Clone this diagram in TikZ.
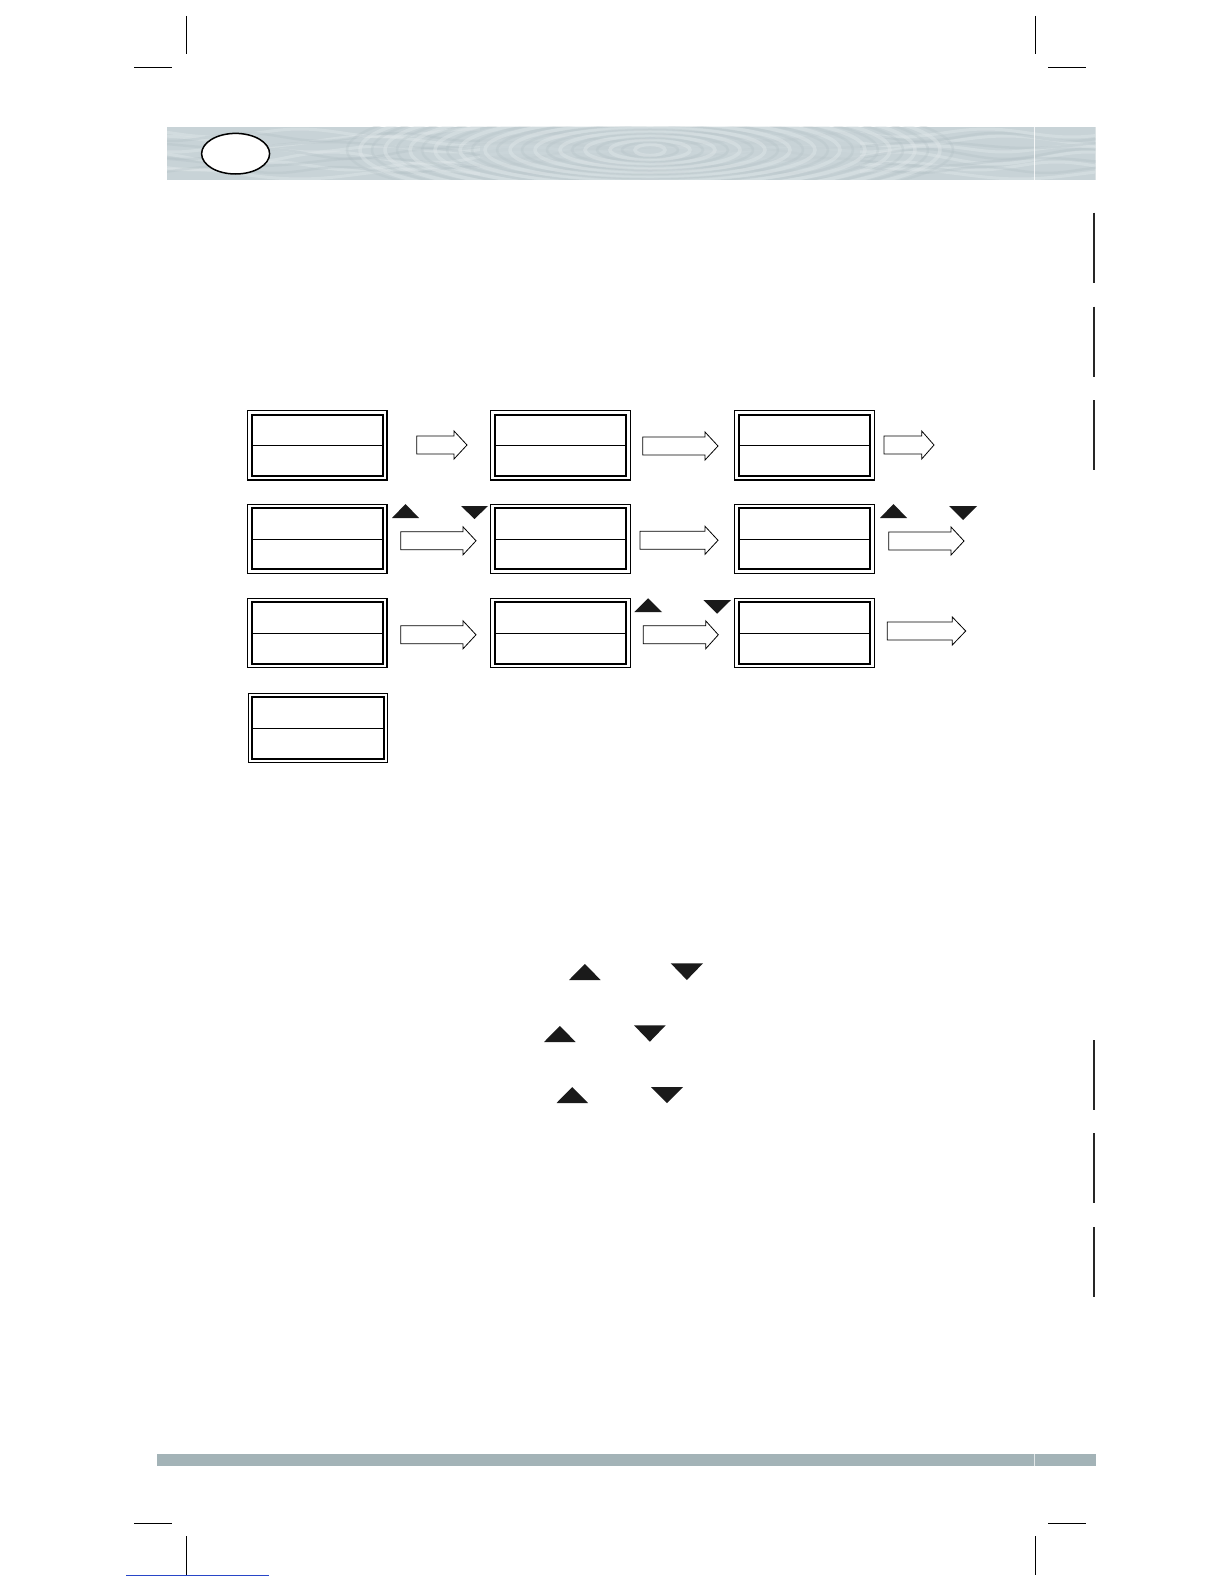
\documentclass[tikz,border=0pt]{standalone}
\usetikzlibrary{calc}
\definecolor{bandbase}{RGB}{200,211,215}
\definecolor{bandlight}{RGB}{224,231,233}
\definecolor{banddark}{RGB}{176,190,195}
\definecolor{footband}{RGB}{163,179,183}
\definecolor{linkblue}{RGB}{40,70,200}
\definecolor{trifill}{RGB}{26,26,26}
\tikzset{
  dispbox/.style={draw=black, line width=1.3pt, fill=white, minimum width=139.5pt, minimum height=69.5pt, inner sep=0pt, outer sep=0pt},
  innerline/.style={draw=black, line width=2pt},
  midline/.style={draw=black, line width=0.8pt},
  blockarrow/.style={draw=black, line width=0.8pt, fill=white, line join=miter},
  tri/.style={fill=trifill},
  cropmark/.style={draw=black, line width=1pt},
  sidebar/.style={draw=black!85, line width=1.5pt}
}
\newcommand\dbox[3]{%
  \node[dispbox] (#1) at (#2,#3) {};
  \draw[innerline] ([xshift=4.2pt,yshift=-4.2pt]#1.north west) rectangle ([xshift=-4.2pt,yshift=4.2pt]#1.south east);
  \draw[midline] ([xshift=4.2pt]#1.west) -- ([xshift=-4.2pt]#1.east);}
\newcommand\barrow[4]{%
  \draw[blockarrow] (#1,#4-9) -- (#2,#4-9) -- (#2,#4-14) -- (#3,#4) -- (#2,#4+14) -- (#2,#4+9) -- (#1,#4+9) -- cycle;}
\newcommand\uptri[4]{\fill[tri] (#1,#4) -- (#2,#4) -- ({(#1+#2)/2},#3) -- cycle;}
\newcommand\dntri[4]{\fill[tri] (#1,#3) -- (#2,#3) -- ({(#1+#2)/2},#4) -- cycle;}
\begin{document}
\begin{tikzpicture}[x=1pt,y=-1pt]
\useasboundingbox (0,0) rectangle (1224,1584);
\fill[white] (0,0) rectangle (1224,1584);

% header band with soft ripple texture
\begin{scope}
  \clip (167,127) rectangle (1095.7,179.5);
  \fill[bandbase] (167,127) rectangle (1095.7,179.5);
  \foreach \y/\a/\f in {133/4/2.1,141/5/1.7,149/3/2.6,158/6/1.9,166/4/2.3,174/5/1.5}{
    \draw[bandlight, opacity=.45, line width=3pt] plot[domain=167:1096, samples=120] (\x,{\y+\a*sin(\x*\f)});
  }
  \foreach \y/\a/\f in {137/4/2.4,145/3/1.8,154/5/2.2,162/4/1.6,170/3/2.8}{
    \draw[banddark, opacity=.3, line width=2.5pt] plot[domain=167:1096, samples=120] (\x,{\y+\a*sin(\x*\f+40)});
  }
  \fill[bandbase, opacity=.7] (480,127) rectangle (860,179.5);
  \foreach \r in {15,40,...,290}{
    \draw[bandlight, opacity=.45, line width=3.5pt] (650,150) ellipse [x radius=\r, y radius={0.17*\r+3}];
  }
  \foreach \r in {28,53,...,303}{
    \draw[banddark, opacity=.25, line width=2.5pt] (650,150) ellipse [x radius=\r, y radius={0.17*\r+3}];
  }
  \draw[white, opacity=.8, line width=1pt] (1034,127) -- (1034,179.5);
\end{scope}
\draw[black, line width=1.5pt, fill=white] (235.6,153.7) ellipse [x radius=34, y radius=20.3];

% footer band
\fill[footband] (156.5,1454) rectangle (1095.5,1465.5);
\draw[white, opacity=.7, line width=0.8pt] (1034,1454) -- (1034,1465.5);

% crop marks
\draw[cropmark] (186,16) -- (186,54);
\draw[cropmark] (134,67.5) -- (172,67.5);
\draw[cropmark] (1035,16) -- (1035,54);
\draw[cropmark] (1048,67.5) -- (1086,67.5);
\draw[cropmark] (134,1523) -- (172,1523);
\draw[cropmark] (186,1536) -- (186,1575);
\draw[cropmark] (1048,1523) -- (1086,1523);
\draw[cropmark] (1035,1536) -- (1035,1575);
\draw[linkblue, line width=1pt] (126,1575.5) -- (269,1575.5);

% right side bars
\foreach \a/\b in {212.7/282.7,306.7/376.7,400/470,1040/1110,1133/1203,1227/1297}{
  \draw[sidebar] (1094,\a) -- (1094,\b);
}

% display boxes
\dbox{b11}{317.2}{445.3}
\dbox{b12}{560.4}{445.3}
\dbox{b13}{804.4}{445.3}
\dbox{b21}{317.2}{538.9}
\dbox{b22}{560.4}{538.9}
\dbox{b23}{804.4}{538.9}
\dbox{b31}{317.2}{633}
\dbox{b32}{560.4}{633}
\dbox{b33}{804.4}{633}
\dbox{b41}{318}{728}

% block arrows
\barrow{416.7}{454}{467}{445}
\barrow{642.7}{705}{718}{446}
\barrow{884}{921.7}{934}{445}
\barrow{400.7}{463}{476}{540.8}
\barrow{640}{705}{718}{540.3}
\barrow{888.7}{951}{964}{541}
\barrow{400.7}{463}{476}{634.8}
\barrow{643.3}{705.7}{718.3}{634.8}
\barrow{887.3}{952.3}{965.7}{631}

% small triangles beside the arrows
\uptri{392}{419}{504}{518}
\dntri{461}{488}{506}{519}
\uptri{880}{907}{504}{518}
\dntri{949}{977}{506}{520}
\uptri{634.3}{662}{598.3}{612}
\dntri{703.3}{731}{600}{613.7}

% triangles lower on the page
\uptri{569}{600.7}{964}{980}
\dntri{670.7}{703}{963.3}{980}
\uptri{544}{575.7}{1026}{1042}
\dntri{634}{665.7}{1025.3}{1041.7}
\uptri{556.5}{588}{1087}{1103}
\dntri{651}{683}{1087}{1103}
\end{tikzpicture}
\end{document}
